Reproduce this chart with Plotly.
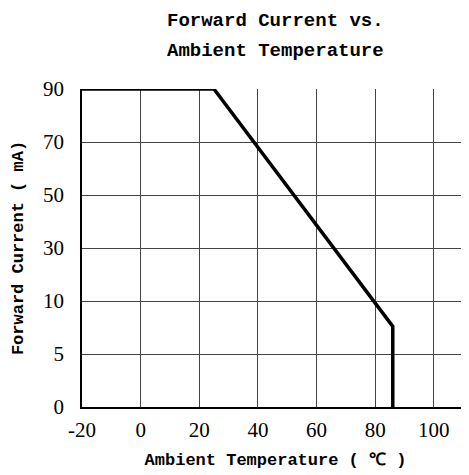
import numpy as np
import plotly.graph_objects as go

# Data
temperature = [-20, 25, 86, 86]          # Ambient temperature (°C)
forward_current = [90, 90, 7.6, 0]       # Forward current (mA)

y_tick_values = [0, 5, 10, 30, 50, 70, 90]   # non-uniform axis labels
x_tick_values = [-20, 0, 20, 40, 60, 80, 100]
title_lines = ["Forward Current vs.", "Ambient Temperature"]

# The reference's y axis places its labels at equal spacing (broken scale)
y_slots = list(range(len(y_tick_values)))
y_pos = np.interp(forward_current, y_tick_values, y_slots)

FONT = "Liberation Mono"
TICKFONT = "Liberation Serif"

W, H = 461, 467
L, R, T, B = 74, 0, 81, 68
PH = H - T - B

fig = go.Figure()
fig.add_trace(go.Scatter(
    x=temperature, y=y_pos, mode="lines",
    line=dict(color="black", width=3.5),
    showlegend=False, hoverinfo="skip",
))

# Two title lines with the reference's wider line spacing
for line, px_from_top in zip(title_lines, [13, 43]):
    fig.add_annotation(
        text=line, xref="paper", yref="paper",
        x=0.5, y=1 + (T - px_from_top) / PH,
        xanchor="center", yanchor="middle", showarrow=False,
        font=dict(family=FONT, size=19, color="black", weight="bold"),
    )

fig.update_layout(
    width=W, height=H,
    margin=dict(l=L, r=R, t=T, b=B),
    paper_bgcolor="white", plot_bgcolor="white",
    xaxis=dict(
        range=[-20, 112],
        tickvals=x_tick_values,
        ticktext=[str(v) for v in x_tick_values],
        showgrid=True, gridcolor="#444", gridwidth=1,
        zeroline=False,
        showline=True, linecolor="black", linewidth=1.5,
        ticks="", ticklabelstandoff=3,
        tickfont=dict(family=TICKFONT, size=21, color="black"),
        title=dict(text="Ambient Temperature ( ℃ )",
                   font=dict(family=FONT, size=17, color="black", weight="bold"),
                   standoff=12),
    ),
    yaxis=dict(
        range=[0, 6],
        tickvals=y_slots,
        ticktext=[str(v) for v in y_tick_values],
        showgrid=True, gridcolor="#444", gridwidth=1,
        zeroline=False,
        showline=True, linecolor="black", linewidth=1.5,
        ticks="", ticklabelstandoff=12,
        tickfont=dict(family=TICKFONT, size=21, color="black"),
        title=dict(text="Forward Current ( mA)",
                   font=dict(family=FONT, size=17, color="black", weight="bold"),
                   standoff=15),
    ),
)

fig.write_html("out.html")
